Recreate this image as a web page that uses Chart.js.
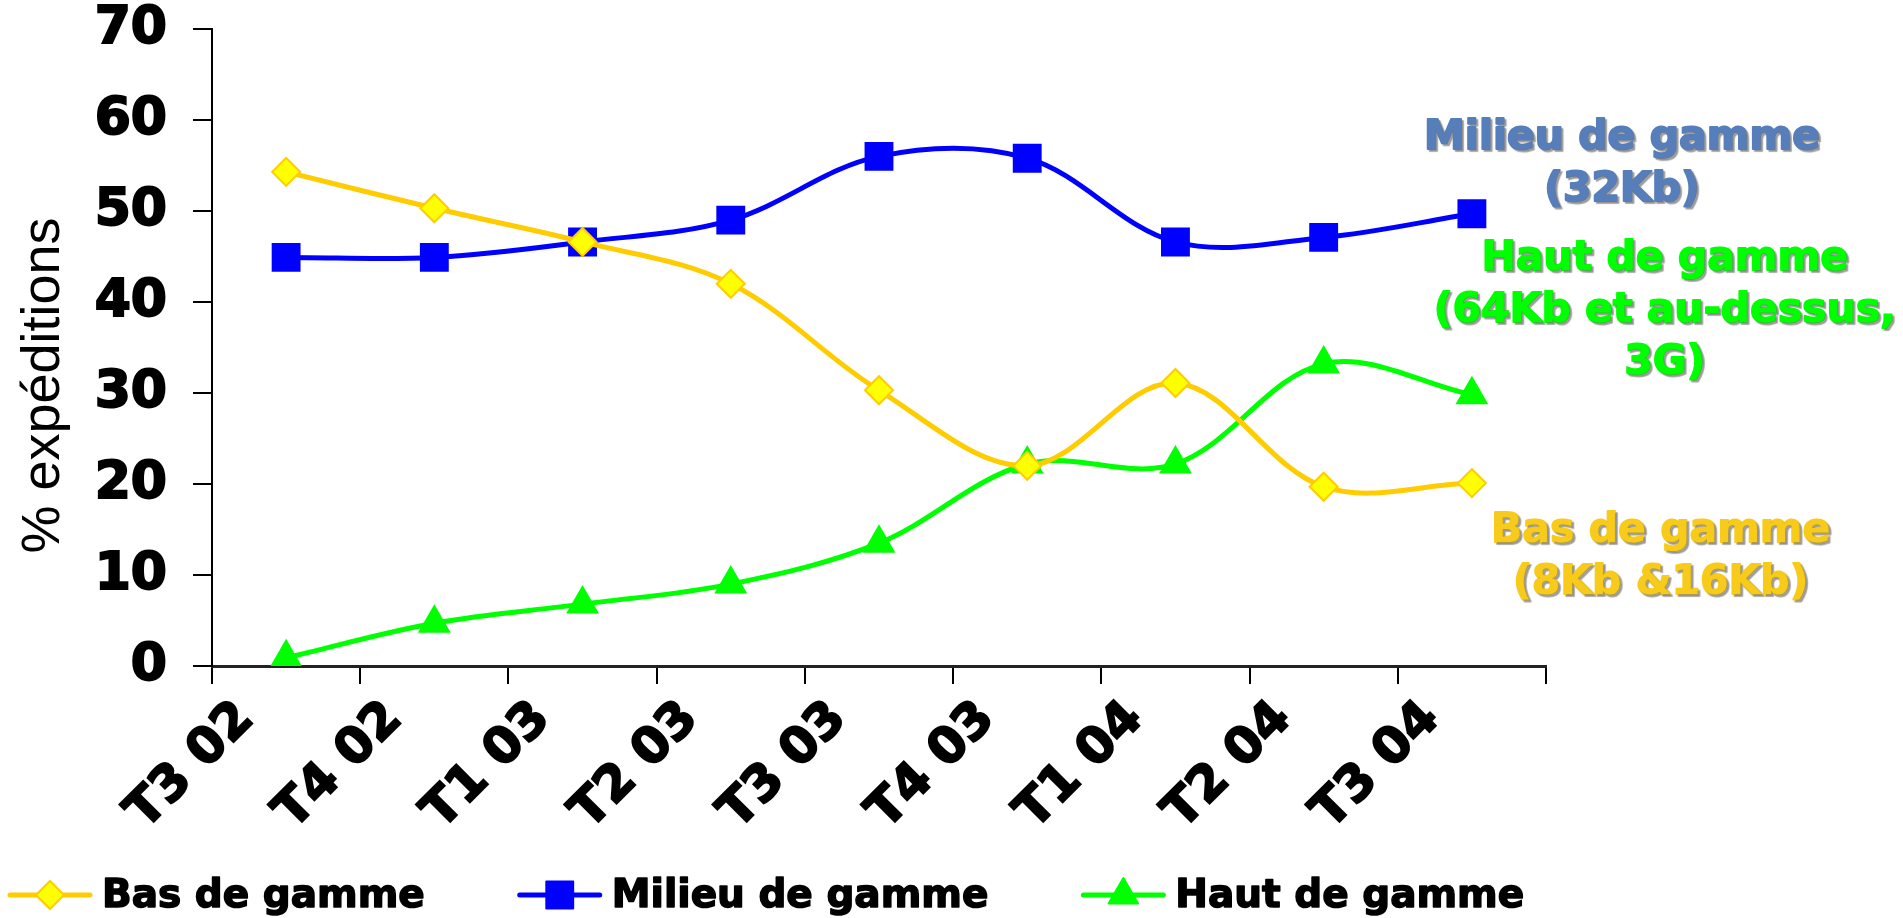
<!DOCTYPE html>
<html>
<head>
<meta charset="utf-8">
<script src="https://cdn.jsdelivr.net/npm/chart.js@4.4.1/dist/chart.umd.min.js"></script>
<style>
  html, body { margin: 0; padding: 0; background: #fff; overflow: hidden; }
  #wrap { width: 1903px; height: 918px; }
</style>
</head>
<body>
<div id="wrap"><canvas id="chart"></canvas></div>
<script>
// Quarters on the x axis
const quarters = ["T3 02", "T4 02", "T1 03", "T2 03", "T3 03", "T4 03", "T1 04", "T2 04", "T3 04"];

// % of shipments per segment
const basGamme = [54.3, 50.3, 46.6, 42.0, 30.3, 22.0, 31.1, 19.7, 20.1];
const milieuGamme = [44.9, 44.9, 46.6, 49.0, 56.0, 55.8, 46.6, 47.1, 49.7];
const hautGamme = [0.9, 4.7, 6.8, 9.0, 13.5, 22.2, 22.2, 33.2, 29.8];

const seriesNames = ["Bas de gamme", "Milieu de gamme", "Haut de gamme"];
const yTitle = "% expéditions";

// Labels written to the right of the plot
const sideNotes = [
  { lines: ["Milieu de gamme", "(32Kb)"], color: "#567EBB", x: 1622, y: [138, 190] },
  { lines: ["Haut de gamme", "(64Kb et au-dessus,", "3G)"], color: "#00FF00", x: 1665, y: [259, 311, 363] },
  { lines: ["Bas de gamme", "(8Kb &16Kb)"], color: "#F8CB1A", x: 1661, y: [531, 583] },
];

const boldFont = "'DejaVu Sans', Verdana, sans-serif";

// draws a marker like chart.js does for the series
function drawMarker(ctx, ds, x, y) {
  ctx.save();
  ctx.fillStyle = ds.pointBackgroundColor;
  ctx.strokeStyle = ds.pointBorderColor;
  ctx.lineWidth = ds.pointBorderWidth;
  if (Chart.helpers && Chart.helpers.drawPoint) {
    Chart.helpers.drawPoint(ctx, {
      pointStyle: ds.pointStyle, radius: ds.pointRadius, rotation: 0, borderWidth: ds.pointBorderWidth
    }, x, y);
  }
  ctx.restore();
}

// heavier text: fill then a thin outline of the same colour
function heavyText(ctx, txt, x, y, w) {
  ctx.lineWidth = w;
  ctx.lineJoin = "round";
  ctx.strokeText(txt, x, y);
  ctx.fillText(txt, x, y);
}

const extrasPlugin = {
  id: "extras",
  afterDraw(chart) {
    const ctx = chart.ctx;
    const area = chart.chartArea;

    // y axis title, rotated
    ctx.save();
    ctx.translate(59, (area.top + area.bottom) / 2 + 38);
    ctx.rotate(-Math.PI / 2);
    ctx.font = "54px 'Liberation Sans', Arial, sans-serif";
    ctx.fillStyle = "#000";
    ctx.textAlign = "center";
    ctx.textBaseline = "alphabetic";
    ctx.fillText(yTitle, 0, 0);
    ctx.restore();

    // side notes with a soft shadow
    ctx.save();
    ctx.font = "bold 41px " + boldFont;
    ctx.textAlign = "center";
    ctx.textBaseline = "middle";
    ctx.shadowColor = "rgba(120,120,120,0.6)";
    ctx.shadowOffsetX = 2;
    ctx.shadowOffsetY = 2;
    ctx.shadowBlur = 1;
    sideNotes.forEach(n => {
      ctx.fillStyle = n.color;
      ctx.strokeStyle = n.color;
      n.lines.forEach((t, i) => heavyText(ctx, t, n.x, n.y[i], 2));
    });
    ctx.restore();

    // legend: line sample + marker + name
    const ly = 895;
    let lx = 10;
    ctx.save();
    ctx.font = "bold 39px " + boldFont;
    ctx.textBaseline = "middle";
    chart.data.datasets.forEach(ds => {
      ctx.strokeStyle = ds.borderColor;
      ctx.lineWidth = 5;
      ctx.lineCap = "round";
      ctx.beginPath();
      ctx.moveTo(lx, ly);
      ctx.lineTo(lx + 80, ly);
      ctx.stroke();
      drawMarker(ctx, ds, lx + 40, ly);
      ctx.fillStyle = "#000";
      ctx.strokeStyle = "#000";
      heavyText(ctx, ds.label, lx + 92, ly + 2, 1.5);
      lx += 92 + ctx.measureText(ds.label).width + 95;
    });
    ctx.restore();
  }
};

const lineBase = {
  borderWidth: 5,
  tension: 0.35,
  fill: false,
  pointBorderWidth: 2,
};

new Chart(document.getElementById("chart"), {
  type: "line",
  data: {
    labels: quarters,
    datasets: [
      {
        ...lineBase,
        label: seriesNames[0],
        data: basGamme,
        borderColor: "#FFCC00",
        pointStyle: "rectRot",
        pointRadius: 14,
        pointBackgroundColor: "#FFFF00",
        pointBorderColor: "#FFCC00",
      },
      {
        ...lineBase,
        label: seriesNames[1],
        data: milieuGamme,
        borderColor: "#0000FF",
        pointStyle: "rect",
        pointRadius: 19,
        pointBackgroundColor: "#0000FF",
        pointBorderColor: "#0000FF",
      },
      {
        ...lineBase,
        label: seriesNames[2],
        data: hautGamme,
        borderColor: "#00FF00",
        pointStyle: "triangle",
        pointRadius: 17,
        pointBackgroundColor: "#00FF00",
        pointBorderColor: "#00FF00",
      },
    ],
  },
  options: {
    responsive: true,
    maintainAspectRatio: false,
    animation: false,
    layout: { padding: { left: 0, right: 357, top: 0, bottom: 60 } },
    plugins: {
      legend: { display: false },
      tooltip: { enabled: false },
    },
    scales: {
      x: {
        offset: true,
        grid: {
          offset: true,
          drawOnChartArea: false,
          tickLength: 18,
          color: "#000",
          lineWidth: 2,
        },
        border: { display: true, color: "#222", width: 3 },
        ticks: {
          color: "#000",
          font: { family: boldFont, weight: "bold", size: 50 },
          textStrokeColor: "#000",
          textStrokeWidth: 2,
          minRotation: 45,
          maxRotation: 45,
          autoSkip: false,
          padding: 6,
          labelOffset: -40,
        },
        afterFit(scale) { scale.height = 192; },
      },
      y: {
        min: 0,
        max: 70,
        grid: {
          drawOnChartArea: false,
          tickLength: 19,
          color: "#000",
          lineWidth: 2,
        },
        border: { display: true, color: "#000", width: 2 },
        ticks: {
          stepSize: 10,
          color: "#000",
          font: { family: boldFont, weight: "bold", size: 52 },
          textStrokeColor: "#000",
          textStrokeWidth: 2,
          padding: 26,
        },
        afterFit(scale) {
          scale.width = 212;
          scale.paddingTop = 29;
        },
      },
    },
  },
  plugins: [extrasPlugin],
});
</script>
</body>
</html>
